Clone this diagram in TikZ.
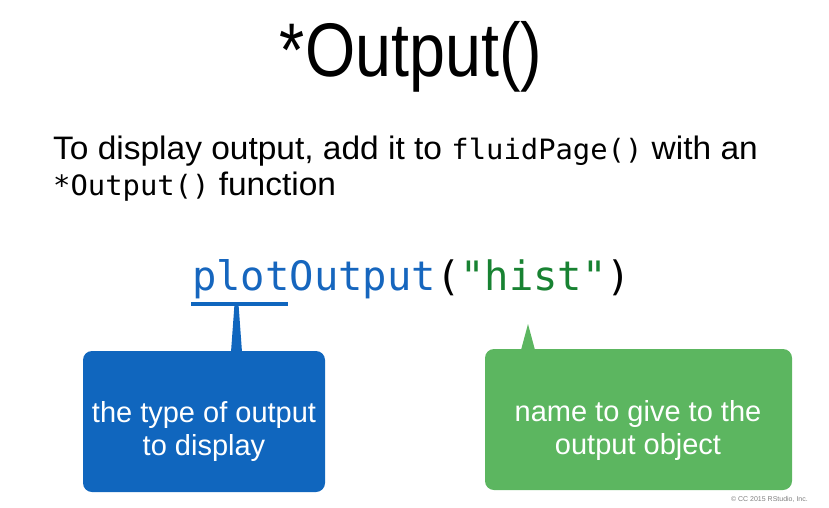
\documentclass[tikz,border=0pt]{standalone}
\usepackage{fontspec}
\setmainfont{Liberation Sans}
\setmonofont{DejaVu Sans Mono}
\definecolor{cblue}{RGB}{16,102,190}
\definecolor{cgreen}{RGB}{92,182,96}
\definecolor{codeblue}{RGB}{22,102,190}
\definecolor{codegreen}{RGB}{24,130,50}
\newcommand{\bodymono}[1]{{\fontsize{28}{36}\selectfont\ttfamily #1}}
\begin{document}
\begin{tikzpicture}[x=1pt,y=-1pt,
  callout/.style={rounded corners=9pt},
  calltext/.style={text=white,align=center,font=\fontsize{29}{33}\selectfont},
  txt/.style={inner sep=0pt}]
\useasboundingbox (0,0) rectangle (829,507);
\node[txt,anchor=base,xscale=0.85] (title) at (411,76) {\fontsize{76}{80}\selectfont *Output()};
\node[txt,anchor=base west,xscale=1.03] (l1) at (53,159) {\fontsize{32.5}{36}\selectfont To display output, add it to \bodymono{fluidPage()} with an};
\node[txt,anchor=base west,xscale=1.03] (l2) at (53,195) {\fontsize{32.5}{36}\selectfont \bodymono{*Output()} function};
\node[txt,anchor=base west] (code) at (192,290) {\fontsize{40.5}{44}\selectfont\ttfamily\textcolor{codeblue}{plotOutput}(\textcolor{codegreen}{"hist"})};
% underline
\coordinate (u1) at (191,304);
\coordinate (u2) at (288,304);
\draw[cblue,line width=4pt] (u1) -- (u2);
% blue callout
\fill[cblue,callout] (83,351) rectangle (325,492);
\fill[cblue] (234.5,304) -- (238.5,304) -- (242,352) -- (231,352) -- cycle;
\node[calltext] (bt) at (204,431) {the type of output\\to display};
% green callout
\fill[cgreen,callout] (485,349) rectangle (792,490);
\fill[cgreen] (528,324) -- (535,350) -- (521,350) -- cycle;
\node[calltext] (gt) at (638,430) {name to give to the\\output object};
\node[txt,anchor=base east,text=gray,font=\fontsize{7}{8}\selectfont] (copy) at (808,501) {\textcopyright{} CC 2015 RStudio, Inc.};
\end{tikzpicture}
\end{document}
